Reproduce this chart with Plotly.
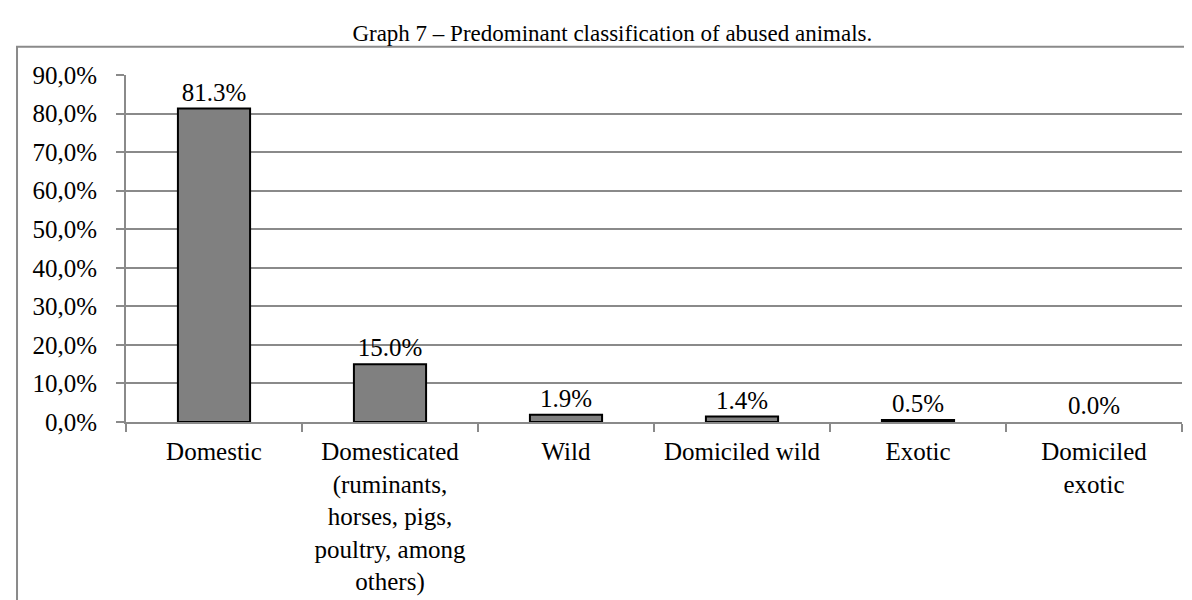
import plotly.graph_objects as go

categories = [
    'Domestic',
    'Domesticated<br>(ruminants,<br>horses, pigs,<br>poultry, among<br>others)',
    'Wild',
    'Domiciled wild',
    'Exotic',
    'Domiciled<br>exotic',
]
values = [81.3, 15.0, 1.9, 1.4, 0.5, 0.0]
value_labels = ['81.3%', '15.0%', '1.9%', '1.4%', '0.5%', '0.0%']
y_ticks = [0, 10, 20, 30, 40, 50, 60, 70, 80, 90]
y_tick_labels = ['0,0%', '10,0%', '20,0%', '30,0%', '40,0%',
                 '50,0%', '60,0%', '70,0%', '80,0%', '90,0%']

FONT = 'Liberation Serif, Times New Roman, serif'
GREY = '#8a8a8a'

fig = go.Figure()

fig.add_trace(go.Bar(
    x=categories,
    y=values,
    text=value_labels,
    textposition='outside',
    textfont=dict(family=FONT, size=25, color='black'),
    marker=dict(
        color='#808080',
        # no outline on an empty bar
        line=dict(color='black', width=[2 if v > 0 else 0 for v in values])
    ),
    width=0.41,
    cliponaxis=False,
    hoverinfo='skip'
))

fig.update_layout(
    width=1192,
    height=600,
    margin=dict(l=118, r=18, t=67, b=178),
    paper_bgcolor='white',
    plot_bgcolor='white',
    showlegend=False,
    font=dict(family=FONT, size=25, color='black'),
    title=dict(
        text='Graph 7 – Predominant classification of abused animals.',
        x=0.507, xanchor='center', xref='container',
        y=1 - 25 / 600, yanchor='middle', yref='container',
        font=dict(family=FONT, size=23, color='black')
    ),
    shapes=[dict(
        type='rect', xref='paper', yref='paper',
        x0=-0.1032, x1=1.0161, y0=-0.6, y1=1.0817,
        line=dict(color=GREY, width=2), layer='below'
    )]
)

fig.update_xaxes(
    type='category',
    showline=True, linecolor=GREY, linewidth=2,
    ticks='outside', tickson='boundaries', ticklen=8,
    tickcolor=GREY, tickwidth=2,
    showgrid=False,
    ticklabelstandoff=6,
    tickfont=dict(family=FONT, size=25, color='black')
)

fig.update_yaxes(
    range=[0, 90],
    tickvals=y_ticks, ticktext=y_tick_labels,
    showline=True, linecolor=GREY, linewidth=2,
    ticks='outside', ticklen=8, tickcolor=GREY, tickwidth=2,
    showgrid=True, gridcolor=GREY, gridwidth=2,
    zeroline=False,
    ticklabelstandoff=14,
    tickfont=dict(family=FONT, size=25, color='black')
)

fig.write_html("out.html")
